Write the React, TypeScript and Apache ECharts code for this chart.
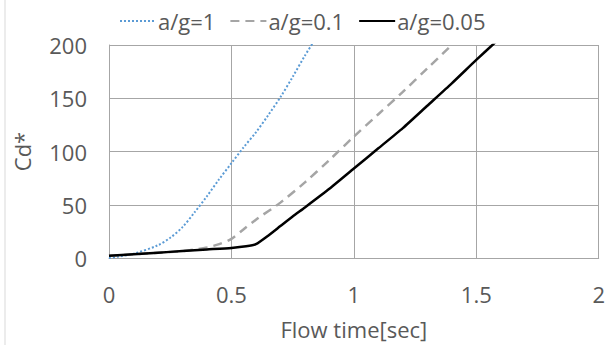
import React, { useEffect, useRef } from "react";
import * as echarts from "echarts";

const seriesNames = ["a/g=1", "a/g=0.1", "a/g=0.05"];

const blueX = [0, 0.1, 0.2, 0.25, 0.3, 0.35, 0.4, 0.45, 0.5, 0.55, 0.6, 0.65, 0.7, 0.75, 0.8, 0.83];
const blueY = [0, 4, 12, 19, 29, 43, 58, 74, 89, 104, 118, 134, 151, 170, 190, 201];

const grayX = [0, 0.1, 0.2, 0.3, 0.35, 0.4, 0.45, 0.5, 0.55, 0.6, 0.7, 0.8, 0.9, 1.0, 1.1, 1.2, 1.3, 1.4];
const grayY = [2, 3.5, 5, 6.5, 8, 10, 13, 18, 27, 36, 52, 71, 92, 114, 135, 156, 178, 200];

const blackX = [0, 0.1, 0.2, 0.3, 0.4, 0.5, 0.56, 0.6, 0.65, 0.7, 0.75, 0.8, 0.9, 1.0, 1.1, 1.2, 1.3, 1.4, 1.5, 1.58];
const blackY = [2, 3.5, 5, 6.5, 8, 9.5, 11, 13, 21, 30, 39, 47.5, 65, 84, 103, 122, 143, 164, 186, 203];

const xTicks = [0, 0.5, 1, 1.5, 2];
const yTicks = [0, 50, 100, 150, 200];

const FONT = "'Open Sans', 'Noto Sans', sans-serif";
const TXT = "#595959";
const FS = 22;

function zip(xs: number[], ys: number[]) {
  return xs.map((x, i) => [x, ys[i]]);
}

export default function App() {
  const ref = useRef<HTMLDivElement>(null);
  useEffect(() => {
    if (!ref.current) return;
    const chart = echarts.init(ref.current, undefined, { renderer: "svg" });
    chart.setOption({
      animation: false,
      backgroundColor: "#ffffff",
      textStyle: { fontFamily: FONT },
      grid: { left: 109, right: 8, top: 45, bottom: 85 },
      legend: {
        top: 5,
        left: 114,
        itemWidth: 36,
        itemHeight: 22,
        itemGap: 14,
        itemStyle: { opacity: 0 },
        textStyle: { color: TXT, fontSize: FS, fontFamily: FONT, padding: [0, 0, 0, -3] },
        data: seriesNames,
      },
      graphic: [
        {
          type: "line",
          shape: { x1: 5, y1: 0, x2: 5, y2: 345 },
          style: { stroke: "#d9d9d9", lineWidth: 1 },
        },
      ],
      xAxis: {
        type: "value",
        min: xTicks[0],
        max: xTicks[xTicks.length - 1],
        interval: 0.5,
        name: "Flow time[sec]",
        nameLocation: "middle",
        nameGap: 60,
        nameTextStyle: { color: TXT, fontSize: FS, fontFamily: FONT },
        axisLine: { lineStyle: { color: "#a6a6a6" } },
        axisTick: { show: false },
        axisLabel: { color: TXT, fontSize: FS, margin: 25, fontFamily: FONT },
        splitLine: { show: true, lineStyle: { color: "#a6a6a6", width: 1 } },
      },
      yAxis: {
        type: "value",
        min: yTicks[0],
        max: yTicks[yTicks.length - 1],
        interval: 50,
        name: "Cd*",
        nameLocation: "middle",
        nameGap: 76,
        nameRotate: 90,
        nameTextStyle: { color: TXT, fontSize: FS, fontFamily: FONT },
        axisLine: { show: true, lineStyle: { color: "#a6a6a6" } },
        axisTick: { show: false },
        axisLabel: { color: TXT, fontSize: FS, margin: 22, fontFamily: FONT },
        splitLine: { show: true, lineStyle: { color: "#a6a6a6", width: 1 } },
      },
      series: [
        {
          name: seriesNames[0],
          type: "line",
          data: zip(blueX, blueY),
          showSymbol: false,
          smooth: 0.3,
          clip: true,
          lineStyle: { color: "#5b9bd5", width: 2, type: [2, 2] },
          itemStyle: { color: "#5b9bd5" },
        },
        {
          name: seriesNames[1],
          type: "line",
          data: zip(grayX, grayY),
          showSymbol: false,
          smooth: 0.3,
          clip: true,
          lineStyle: { color: "#a5a5a5", width: 2.5, type: [9, 6] },
          itemStyle: { color: "#a5a5a5" },
        },
        {
          name: seriesNames[2],
          type: "line",
          data: zip(blackX, blackY),
          showSymbol: false,
          smooth: 0.2,
          clip: true,
          lineStyle: { color: "#000000", width: 2.5 },
          itemStyle: { color: "#000000" },
        },
      ],
    });
    return () => chart.dispose();
  }, []);
  return (
    <div
      ref={ref}
      style={{ position: "fixed", left: 0, top: 0, width: 608, height: 345 }}
    />
  );
}
